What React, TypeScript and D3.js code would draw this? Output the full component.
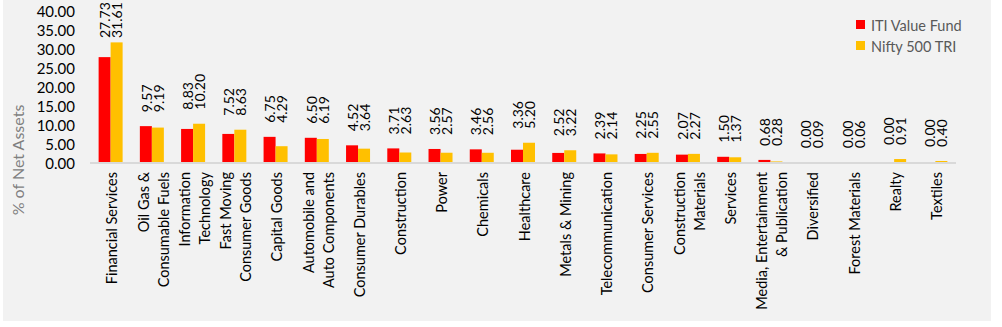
import React from "react";
import * as d3 from "d3";

const categories: string[][] = [
  ["Financial Services"],
  ["Oil Gas &", "Consumable Fuels"],
  ["Information", "Technology"],
  ["Fast Moving", "Consumer Goods"],
  ["Capital Goods"],
  ["Automobile and", "Auto Components"],
  ["Consumer Durables"],
  ["Construction"],
  ["Power"],
  ["Chemicals"],
  ["Healthcare"],
  ["Metals & Mining"],
  ["Telecommunication"],
  ["Consumer Services"],
  ["Construction", "Materials"],
  ["Services"],
  ["Media, Entertainment", "& Publication"],
  ["Diversified"],
  ["Forest Materials"],
  ["Realty"],
  ["Textiles"],
];

const fundValues = [27.73, 9.57, 8.83, 7.52, 6.75, 6.5, 4.52, 3.71, 3.56, 3.46, 3.36, 2.52, 2.39, 2.25, 2.07, 1.5, 0.68, 0.0, 0.0, 0.0, 0.0];
const benchValues = [31.61, 9.19, 10.2, 8.63, 4.29, 6.19, 3.64, 2.63, 2.57, 2.56, 5.2, 3.22, 2.14, 2.55, 2.27, 1.37, 0.28, 0.09, 0.06, 0.91, 0.4];

const yTicks = [0, 5, 10, 15, 20, 25, 30, 35, 40];
const seriesNames = ["ITI Value Fund", "Nifty 500 TRI"];
const seriesColors = ["#FF0000", "#FFC000"];

const FONT = "Lato, 'Noto Sans', sans-serif";

export default function App() {
  const W = 1002;
  const H = 327;
  const keys = categories.map((c) => c.join(" "));
  const x = d3.scaleBand<string>().domain(keys).range([90, 956]).padding(0);
  const y = d3.scaleLinear().domain([0, 40]).range([162.5, 10.5]);
  const barW = 12;
  const fs = 14.5;

  return (
    <div style={{ position: "absolute", left: 0, top: 0 }}>
      <svg width={W} height={H} style={{ display: "block", fontFamily: FONT }}>
        <rect x={0} y={0} width={W} height={H} fill="#ffffff" />
        <rect x={3} y={0} width={988} height={321} fill="#f2f2f2" />

        {/* y ticks */}
        {yTicks.map((t) => (
          <text
            key={t}
            x={75}
            y={y(t)}
            textAnchor="end"
            dominantBaseline="central"
            fontSize={15}
            fill="#000"
          >
            {d3.format(".2f")(t)}
          </text>
        ))}

        {/* axis title */}
        <text
          transform={`translate(17,160) rotate(-90)`}
          textAnchor="middle"
          dominantBaseline="central"
          fontSize={16}
          fill="#7f7f7f"
        >
          % of Net Assets
        </text>

        {/* bars */}
        {keys.map((k, i) => {
          const cx = (x(k) as number) + x.bandwidth() / 2;
          const vals = [fundValues[i], benchValues[i]];
          return (
            <g key={k}>
              {vals.map((v, j) => (
                <rect
                  key={j}
                  x={cx - barW + j * barW}
                  y={y(v)}
                  width={barW}
                  height={y(0) - y(v)}
                  fill={seriesColors[j]}
                />
              ))}
            </g>
          );
        })}

        {/* axis line */}
        <line x1={90} x2={956} y1={163} y2={163} stroke="#d9d9d9" strokeWidth={2} />

        {/* value labels */}
        {keys.map((k, i) => {
          const cx = (x(k) as number) + x.bandwidth() / 2;
          const top = Math.min(y(fundValues[i]), y(benchValues[i]));
          const start = Math.max(top - 14, 38);
          return (
            <g key={k}>
              {[fundValues[i], benchValues[i]].map((v, j) => (
                <text
                  key={j}
                  transform={`translate(${cx - 0.3 + j * 12},${start}) rotate(-90)`}
                  textAnchor="start"
                  fontSize={14}
                  fill="#000"
                >
                  {d3.format(".2f")(v)}
                </text>
              ))}
            </g>
          );
        })}

        {/* category labels */}
        {categories.map((lines, i) => {
          const cx = (x(keys[i]) as number) + x.bandwidth() / 2;
          const n = lines.length;
          return (
            <g key={i}>
              {lines.map((ln, j) => (
                <text
                  key={j}
                  transform={`translate(${cx + 6.7 + (j - (n - 1) / 2) * 20},172) rotate(-90)`}
                  textAnchor="end"
                  fontSize={fs}
                  fill="#000"
                >
                  {ln}
                </text>
              ))}
            </g>
          );
        })}

        {/* legend */}
        {seriesNames.map((s, i) => (
          <g key={s} transform={`translate(856,${20 + i * 21})`}>
            <rect x={0} y={0} width={9} height={9} fill={seriesColors[i]} />
            <text x={15} y={5} dominantBaseline="central" fontSize={fs} fill="#595959">
              {s}
            </text>
          </g>
        ))}
      </svg>
    </div>
  );
}
